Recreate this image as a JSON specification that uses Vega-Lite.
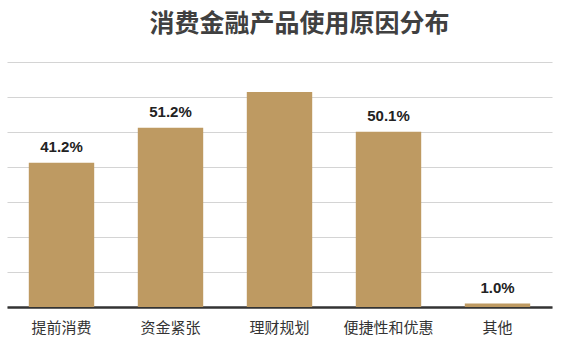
{
  "$schema": "https://vega.github.io/schema/vega-lite/v6.json",
  "width": 545,
  "height": 245,
  "autosize": "none",
  "padding": {"left": 7, "top": 62, "right": 10, "bottom": 44},
  "background": "white",
  "title": {
    "text": "消费金融产品使用原因分布",
    "font": "Noto Sans CJK SC",
    "fontSize": 25,
    "fontWeight": "bold",
    "color": "#404040",
    "anchor": "middle",
    "offset": 25,
    "dx": 20
  },
  "data": {
    "values": [
      {"reason": "提前消费", "value": 41.2, "label": "41.2%"},
      {"reason": "资金紧张", "value": 51.2, "label": "51.2%"},
      {"reason": "理财规划", "value": 61.4, "label": ""},
      {"reason": "便捷性和优惠", "value": 50.1, "label": "50.1%"},
      {"reason": "其他", "value": 1.0, "label": "1.0%"}
    ]
  },
  "encoding": {
    "x": {
      "field": "reason",
      "type": "nominal",
      "sort": null,
      "scale": {"paddingInner": 0.4, "paddingOuter": 0.2},
      "axis": {
        "title": null,
        "labelAngle": 0,
        "labelFont": "Noto Sans CJK SC",
        "labelFontSize": 15,
        "labelColor": "#333333",
        "labelPadding": 13,
        "ticks": false,
        "domainColor": "#333333",
        "domainWidth": 2.5
      }
    },
    "y": {
      "field": "value",
      "type": "quantitative",
      "scale": {"domain": [0, 70], "nice": false},
      "axis": {
        "title": null,
        "labels": false,
        "ticks": false,
        "domain": false,
        "values": [0, 10, 20, 30, 40, 50, 60, 70],
        "gridColor": "#D4D4D4",
        "gridWidth": 1.2
      }
    }
  },
  "layer": [
    {"mark": {"type": "bar", "color": "#BE9A62"}},
    {
      "mark": {
        "type": "text",
        "dy": -8,
        "baseline": "bottom",
        "font": "Liberation Sans",
        "fontSize": 15,
        "fontWeight": "bold",
        "color": "#222222"
      },
      "encoding": {"text": {"field": "label"}}
    }
  ],
  "config": {"view": {"stroke": null}}
}
